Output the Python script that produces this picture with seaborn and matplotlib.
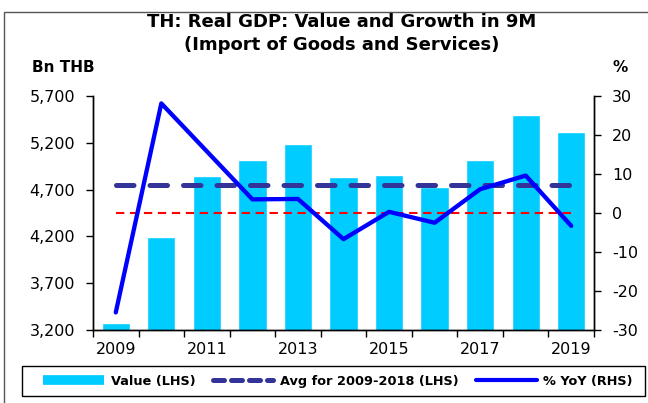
import numpy as np
import pandas as pd
import matplotlib
matplotlib.use("Agg")
import matplotlib.pyplot as plt
from matplotlib.lines import Line2D
from matplotlib.patches import Rectangle
import seaborn as sns

years = ["2009", "2010", "2011", "2012", "2013", "2014", "2015", "2016", "2017", "2018", "2019"]
value_bn = [3270, 4190, 4850, 5015, 5192, 4836, 4856, 4730, 5015, 5500, 5318]
yoy_pct = [-25.5, 28.1, 15.8, 3.5, 3.6, -6.7, 0.3, -2.5, 6.1, 9.6, -3.3]
shown_years = ["2009", "2011", "2013", "2015", "2017", "2019"]

avg_value = np.mean(value_bn[:10])

sns.set_style("white")
plt.rcParams["font.family"] = ["DejaVu Sans"]
plt.rcParams["axes.unicode_minus"] = False
for k in ("text.color", "xtick.color", "ytick.color", "axes.labelcolor"):
    plt.rcParams[k] = "black"

fig = plt.figure(figsize=(6.48, 4.03), dpi=100)
ax = fig.add_axes([93 / 648, 1 - 330 / 403, 501 / 648, 234 / 403])

df = pd.DataFrame({"year": years, "value": value_bn})
sns.barplot(data=df, x="year", y="value", color="#00CCFF", saturation=1,
            width=0.62, ax=ax, zorder=1)
ax.set_ylim(3200, 5700)
ax.set_yticks(np.arange(3200, 5701, 500))
ax.set_yticklabels([f"{v:,}" for v in range(3200, 5701, 500)])
ax.set_xlim(-0.5, len(years) - 0.5)
ax.set_xlabel("")
ax.set_ylabel("")

xpos = np.arange(len(years))
ax.plot([xpos[0], xpos[-1]], [avg_value, avg_value], color="#333399", lw=3.6,
        dashes=(3.5, 3.2), solid_capstyle="round", dash_capstyle="round", zorder=3)

# category boundary ticks, labels every other year
ax.set_xticks(np.arange(-0.5, len(years), 1.0))
ax.set_xticklabels([])
ax.set_xticks(xpos[::2], minor=True)
ax.set_xticklabels(shown_years, minor=True)
ax.tick_params(axis="x", which="major", length=5, width=1, direction="out", bottom=True)
ax.tick_params(axis="x", which="minor", length=0, labelsize=11.5, pad=9)
ax.tick_params(axis="y", length=5, width=1, direction="out", left=True, labelsize=11.5, pad=8)

ax2 = ax.twinx()
ax2.set_ylim(-30, 30)
ax2.set_yticks(np.arange(-30, 31, 10))
ax2.plot([xpos[0], xpos[-1]], [0, 0], color="#FF0000", lw=1.5, dashes=(4, 2.7), zorder=2)
sns.lineplot(x=xpos, y=yoy_pct, color="#0000FF", lw=3.1, ax=ax2, zorder=4)
ax2.tick_params(axis="y", length=5, width=1, direction="out", right=True, labelsize=11.5, pad=8)
ax2.set_xlim(-0.5, len(years) - 0.5)

for a in (ax, ax2):
    a.spines["top"].set_visible(False)
    for s in ("left", "right", "bottom"):
        a.spines[s].set_color("black")
        a.spines[s].set_linewidth(1)
    a.patch.set_visible(False)
ax.set_zorder(ax2.get_zorder() - 1)

fig.text(342 / 648, 1 - 22 / 403, "TH: Real GDP: Value and Growth in 9M",
         ha="center", va="center", fontsize=13, fontweight="bold")
fig.text(342 / 648, 1 - 45 / 403, "(Import of Goods and Services)",
         ha="center", va="center", fontsize=13, fontweight="bold")
fig.text(32 / 648, 1 - 68 / 403, "Bn THB", ha="left", va="center",
         fontsize=11, fontweight="bold")
fig.text(620 / 648, 1 - 68 / 403, "%", ha="center", va="center",
         fontsize=11, fontweight="bold")

handles = [
    Line2D([], [], color="#00CCFF", lw=7, solid_capstyle="butt"),
    Line2D([], [], color="#333399", lw=3.6, dashes=(2.2, 1.4), dash_capstyle="round"),
    Line2D([], [], color="#0000FF", lw=3),
]
labels = ["Value (LHS)", "Avg for 2009-2018 (LHS)", "% YoY (RHS)"]
leg = fig.legend(handles, labels, loc="center", bbox_to_anchor=(338 / 648, 1 - 381 / 403),
                 ncol=3, frameon=False,
                 handlelength=4.7, columnspacing=1.35, handletextpad=0.5,
                 prop={"weight": "bold", "size": 9.3})

# legend box and outer chart border
fig.patches.append(Rectangle((22 / 648, 1 - 396 / 403), 623 / 648, 30 / 403,
                             transform=fig.transFigure, fill=False,
                             edgecolor="black", lw=1))
fig.patches.append(Rectangle((4 / 648, -0.05), 1.0, 1 - 12 / 403 + 0.05,
                             transform=fig.transFigure, fill=False,
                             edgecolor="#555555", lw=1))

fig.savefig("out.png", dpi=100)
